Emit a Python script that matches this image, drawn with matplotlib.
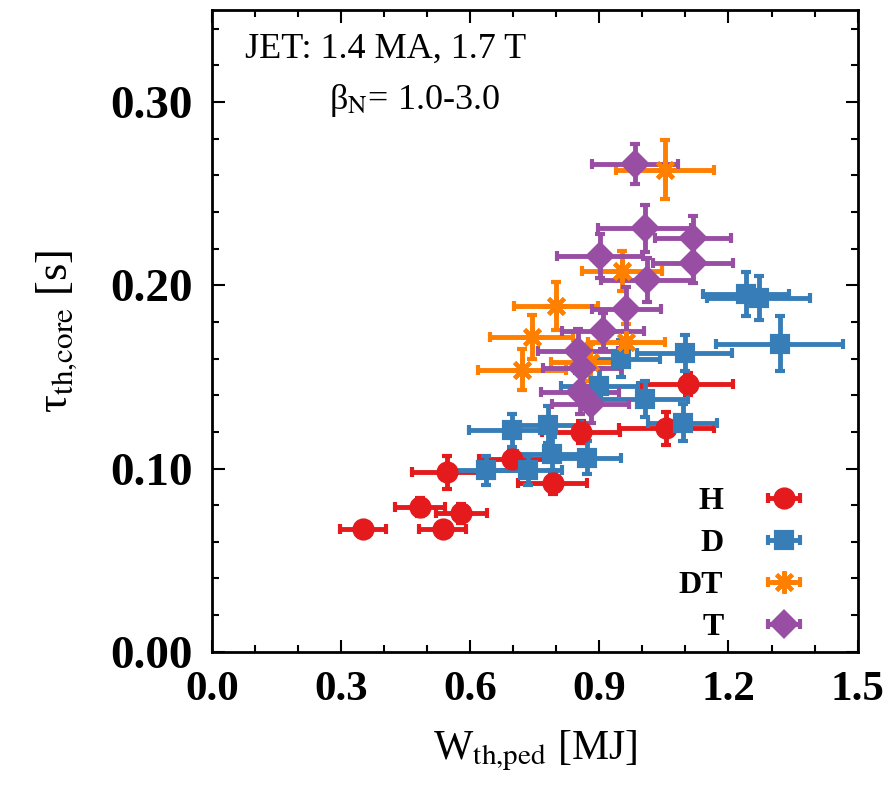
import numpy as np
import matplotlib
matplotlib.use('Agg')
import matplotlib.pyplot as plt
from matplotlib.ticker import MultipleLocator
from matplotlib.container import ErrorbarContainer
from matplotlib.legend_handler import HandlerErrorbar

plt.rcParams['font.family'] = ['Liberation Serif', 'DejaVu Serif']
plt.rcParams['mathtext.fontset'] = 'stix'

# H
h_x = [0.351, 0.483, 0.536, 0.580, 0.546, 0.697, 0.792, 0.858, 1.056, 1.105]
h_y = [0.067, 0.079, 0.067, 0.0755, 0.098, 0.105, 0.092, 0.120, 0.122, 0.146]
h_xe = [0.053, 0.058, 0.055, 0.060, 0.080, 0.077, 0.080, 0.090, 0.110, 0.105]
h_ye = [0.004, 0.005, 0.004, 0.005, 0.009, 0.006, 0.006, 0.006, 0.009, 0.006]

# D
d_x = [0.697, 0.780, 0.638, 0.734, 0.871, 0.790, 1.005, 1.094, 1.098, 1.319, 1.240, 1.270, 0.900, 0.950]
d_y = [0.121, 0.124, 0.099, 0.099, 0.106, 0.108, 0.138, 0.125, 0.163, 0.168, 0.195, 0.193, 0.145, 0.160]
d_xe = [0.100, 0.080, 0.080, 0.080, 0.080, 0.080, 0.100, 0.080, 0.110, 0.147, 0.100, 0.120, 0.090, 0.090]
d_ye = [0.009, 0.010, 0.008, 0.008, 0.009, 0.009, 0.010, 0.010, 0.010, 0.015, 0.012, 0.012, 0.010, 0.010]

# DT
dt_x = [1.052, 0.952, 0.800, 0.743, 0.720, 0.963, 0.878]
dt_y = [0.263, 0.2076, 0.1886, 0.172, 0.154, 0.169, 0.158]
dt_xe = [0.114, 0.093, 0.097, 0.097, 0.102, 0.090, 0.090]
dt_ye = [0.016, 0.011, 0.013, 0.012, 0.011, 0.010, 0.010]

# T
t_x = [0.982, 1.005, 1.117, 1.117, 0.901, 1.010, 0.963, 0.908, 0.850, 0.855, 0.860, 0.880]
t_y = [0.266, 0.231, 0.2255, 0.212, 0.2158, 0.203, 0.187, 0.175, 0.164, 0.142, 0.155, 0.135]
t_xe = [0.100, 0.107, 0.088, 0.093, 0.100, 0.107, 0.080, 0.095, 0.093, 0.090, 0.090, 0.090]
t_ye = [0.011, 0.013, 0.012, 0.011, 0.012, 0.012, 0.012, 0.010, 0.012, 0.012, 0.010, 0.010]

series = [
    ('H', h_x, h_y, h_xe, h_ye, '#e41a1c', 'o', 13),
    ('D', d_x, d_y, d_xe, d_ye, '#377eb8', 's', 12),
    ('DT', dt_x, dt_y, dt_xe, dt_ye, '#ff7f00', (8, 2, 0), 16),
    ('T', t_x, t_y, t_xe, t_ye, '#984ea3', 'D', 12),
]

fig = plt.figure(figsize=(8.86, 7.92), dpi=100)
ax = fig.add_axes([0.239, 0.177, 0.729, 0.810])

for name, x, y, xe, ye, c, m, ms in series:
    ax.errorbar(x, y, xerr=xe, yerr=ye, marker=m, linestyle='none', color=c,
                ms=ms, mew=3, elinewidth=3.5, capsize=3.5, capthick=3.5, label=name)

ax.set_xlim(0, 1.5)
ax.set_ylim(0, 0.35)
ax.xaxis.set_major_locator(MultipleLocator(0.3))
ax.xaxis.set_minor_locator(MultipleLocator(0.1))
ax.yaxis.set_major_locator(MultipleLocator(0.1))
ax.yaxis.set_minor_locator(MultipleLocator(0.02))
ax.xaxis.set_major_formatter(plt.FormatStrFormatter('%.1f'))
ax.yaxis.set_major_formatter(plt.FormatStrFormatter('%.2f'))
ax.tick_params(which='both', direction='in', top=True, right=True, width=1.5)
ax.tick_params(which='major', length=9)
ax.tick_params(axis='x', which='major', labelsize=31, pad=14)
ax.tick_params(axis='y', which='major', labelsize=34, pad=14)
ax.tick_params(which='minor', length=5)
for lab in ax.get_xticklabels() + ax.get_yticklabels():
    lab.set_fontweight('bold')
for s in ax.spines.values():
    s.set_linewidth(2)

ax.set_xlabel(r'W$_{\rm th{,}ped}$ [MJ]', fontsize=30, labelpad=14)
ax.set_ylabel(r'τ$_{\rm th{,}core}$ [s]', fontsize=32, labelpad=22)

ax.text(0.077, 0.329, 'JET: 1.4 MA, 1.7 T', fontsize=26, ha='left', va='center')
ax.text(0.272, 0.301, r'β$_{\rm N}$= 1.0-3.0', fontsize=26, ha='left', va='center')

leg = ax.legend(loc='lower right', frameon=False, markerfirst=False, fontsize=23,
                handlelength=2.8, handletextpad=0.5, labelspacing=0.4,
                borderaxespad=0.1, bbox_to_anchor=(0.98, -0.01),
                handler_map={ErrorbarContainer: HandlerErrorbar(xerr_size=0.5, yerr_size=0.0)})
for t in leg.get_texts():
    t.set_fontweight('bold')

fig.savefig('out.png', dpi=100)
